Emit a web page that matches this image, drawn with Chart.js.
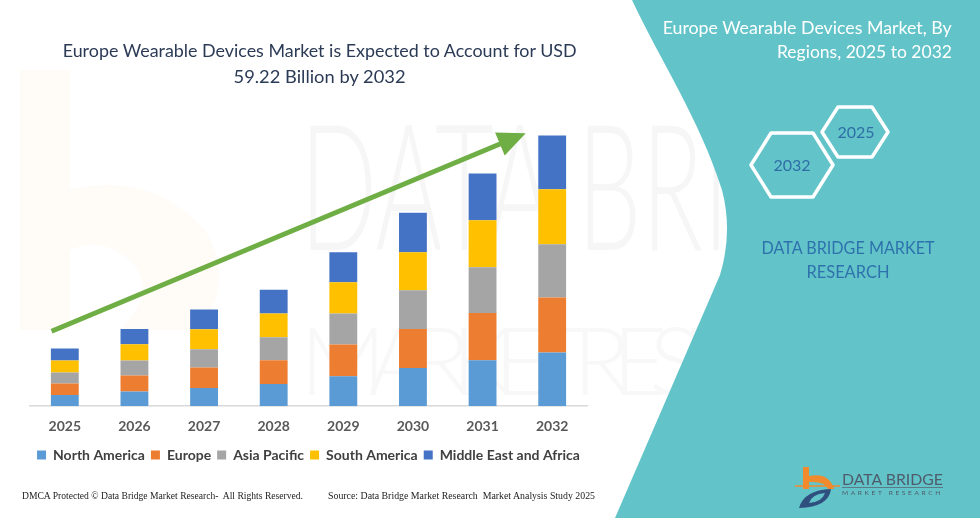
<!DOCTYPE html>
<html>
<head>
<meta charset="utf-8">
<script src="https://cdn.jsdelivr.net/npm/chart.js@4.4.1/dist/chart.umd.min.js"></script>
<style>
  html, body { margin:0; padding:0; }
  body { width:980px; height:523px; position:relative; overflow:hidden; background:#ffffff; font-family: Lato, "Open Sans", sans-serif; }
  #bg { position:absolute; left:0; top:0; }
  #chart { position:absolute; left:0; top:0; }
  .t { position:absolute; white-space:nowrap; line-height:1; }
</style>
</head>
<body>
<svg id="bg" width="980" height="523" viewBox="0 0 980 523">
  <!-- faint watermark -->
  <path d="M20,70 L70,70 L70,190 Q150,170 205,230 Q235,280 200,330 L120,330 Q160,290 130,260 Q100,235 70,250 L70,330 L20,330 Z" fill="#f7941d" opacity="0.04"/>
  <text x="300" y="250" font-family="Lato" font-weight="300" font-size="175" fill="#000" opacity="0.03" textLength="640" lengthAdjust="spacingAndGlyphs">DATA BRIDGE</text>
  <text x="300" y="395" font-family="Lato" font-weight="300" font-size="95" fill="#000" opacity="0.025" textLength="640" letter-spacing="20">MARKET RESEARCH</text>
  <!-- teal panel -->
  <path d="M632,0 C660,60 700,120 722,190 Q733,232 720,275 L615,518 L980,518 L980,0 Z" fill="#62c4c9"/>
  <!-- hexagons -->
  <polygon points="822,132 838,107 872,107 888,132 872,157 838,157" fill="none" stroke="#ffffff" stroke-width="3.5" stroke-linejoin="round"/>
  <polygon points="751,165 771,133 813,133 833,165 813,197 771,197" fill="none" stroke="#ffffff" stroke-width="3.5" stroke-linejoin="round"/>
  <!-- logo -->
  <path d="M803,467 L809,467 L809,476 Q829,472 834,489 L828,489 Q825,481 809,482 L809,489 L803,489 Z" fill="#f08a2c"/>
  <line x1="795" y1="486" x2="840" y2="486" stroke="#f08a2c" stroke-width="1.5"/>
  <path d="M799,508 Q804,490 831,489 Q829,507 799,508 Z" fill="#2f4f7f"/>
  <path d="M809,503 Q812,494 825,493 Q822,502 809,503 Z" fill="#62c4c9"/>
  <line x1="842" y1="487.5" x2="943" y2="487.5" stroke="#5a6676" stroke-width="0.8"/>
</svg>

<canvas id="chart" width="980" height="523"></canvas>

<div class="t" id="title1" style="left:0; width:640px; top:41px; text-align:center; font-size:18px; color:#2b3a55;"><span>Europe Wearable Devices Market is Expected to Account for USD</span></div>
<div class="t" id="title2" style="left:0; width:640px; top:67px; text-align:center; font-size:18px; color:#2b3a55;"><span>59.22 Billion by 2032</span></div>

<div class="t" id="rt1" style="right:28px; top:19px; font-size:17px; color:#ffffff; text-align:right;"><span>Europe Wearable Devices Market, By</span></div>
<div class="t" id="rt2" style="right:28px; top:43px; font-size:17px; color:#ffffff; text-align:right;"><span>Regions, 2025 to 2032</span></div>

<div class="t" style="left:826px; top:124px; width:60px; text-align:center; font-size:16px; color:#2f6ea6;">2025</div>
<div class="t" style="left:762px; top:157px; width:60px; text-align:center; font-size:16px; color:#2f6ea6;">2032</div>

<div class="t" id="db1" style="left:748px; width:200px; top:239px; text-align:center; font-size:17px; color:#2e72ad;"><span>DATA BRIDGE MARKET</span></div>
<div class="t" id="db2" style="left:748px; width:200px; top:263px; text-align:center; font-size:17px; color:#2e72ad;"><span>RESEARCH</span></div>

<div class="t" id="f1" style="left:22px; top:492px; font-family:'Liberation Serif', serif; font-size:9.5px; color:#222;"><span>DMCA Protected © Data Bridge Market Research-&nbsp; All Rights Reserved.</span></div>
<div class="t" id="f2" style="left:328px; top:492px; font-family:'Liberation Serif', serif; font-size:9.5px; color:#222;"><span>Source: Data Bridge Market Research&nbsp; Market Analysis Study 2025</span></div>

<div class="t" id="lg1" style="left:842px; top:471px; font-size:16px; color:#4f5b6b; font-weight:400;"><span>DATA BRIDGE</span></div>
<div class="t" id="lg2" style="left:842px; top:491px; font-size:5px; color:#4f5b6b; letter-spacing:2px;"><span>MARKET RESEARCH</span></div>

<script>
// ---- data ----
const years = ['2025', '2026', '2027', '2028', '2029', '2030', '2031', '2032'];
const seriesNames = ['North America', 'Europe', 'Asia Pacific', 'South America', 'Middle East and Africa'];
const northAmerica     = [2.47, 3.21, 4.00, 4.88, 6.56, 8.38, 10.06, 11.75];
const europe           = [2.48, 3.50, 4.44, 5.19, 6.94, 8.53, 10.35, 12.03];
const asiaPacific      = [2.44, 3.28, 4.00, 5.03, 6.78, 8.47, 10.00, 11.66];
const southAmerica     = [2.58, 3.54, 4.38, 5.19, 6.85, 8.31, 10.28, 12.03];
const middleEastAfrica = [2.63, 3.33, 4.31, 5.19, 6.56, 8.60, 10.22, 11.75];
const arrowStartValue = 16.4;
const arrowEndValue = 59.7;

const colors = ['#5b9bd5', '#ed7d31', '#a5a5a5', '#ffc000', '#4472c4'];
const seriesValues = [northAmerica, europe, asiaPacific, southAmerica, middleEastAfrica];

// fit text helper (decor text)
function fitWidth(id, w, origin) {
  const el = document.getElementById(id);
  const span = el.querySelector('span');
  const cur = span.getBoundingClientRect().width;
  span.style.display = 'inline-block';
  span.style.transformOrigin = origin || 'center';
  span.style.transform = 'scaleX(' + (w / cur) + ')';
}
fitWidth('title1', 514, 'center');
fitWidth('title2', 172, 'center');
fitWidth('rt1', 289, 'right');
fitWidth('rt2', 175, 'right');
fitWidth('db1', 173, 'center');
fitWidth('db2', 83, 'center');
fitWidth('f1', 281, 'left');
fitWidth('f2', 267, 'left');
fitWidth('lg1', 101, 'left');
fitWidth('lg2', 101, 'left');

const arrowPlugin = {
  id: 'growthArrow',
  afterDatasetsDraw(chart) {
    const { ctx, scales: { x, y } } = chart;
    const catW = x.getPixelForValue(1) - x.getPixelForValue(0);
    const x0 = x.getPixelForValue(0) - 0.19 * catW;
    const y0 = y.getPixelForValue(arrowStartValue);
    const x1 = x.getPixelForValue(years.length - 1) - 0.38 * catW;
    const y1 = y.getPixelForValue(arrowEndValue);
    const ang = Math.atan2(y1 - y0, x1 - x0);
    const headLen = 28, headHalf = 12.5;
    const bx = x1 - headLen * Math.cos(ang), by = y1 - headLen * Math.sin(ang);
    ctx.save();
    ctx.strokeStyle = '#6fae45';
    ctx.fillStyle = '#6fae45';
    ctx.lineWidth = 5;
    ctx.lineCap = 'butt';
    ctx.beginPath();
    ctx.moveTo(x0, y0);
    ctx.lineTo(bx + 2 * Math.cos(ang), by + 2 * Math.sin(ang));
    ctx.stroke();
    ctx.beginPath();
    ctx.moveTo(x1, y1);
    ctx.lineTo(bx - headHalf * Math.sin(ang), by + headHalf * Math.cos(ang));
    ctx.lineTo(bx + headHalf * Math.sin(ang), by - headHalf * Math.cos(ang));
    ctx.closePath();
    ctx.fill();
    ctx.restore();
  }
};

new Chart(document.getElementById('chart'), {
  type: 'bar',
  data: {
    labels: years,
    datasets: seriesNames.map((name, i) => ({
      label: name,
      data: seriesValues[i],
      backgroundColor: colors[i],
      borderWidth: 0,
      barPercentage: 0.4,
      categoryPercentage: 1.0
    }))
  },
  options: {
    responsive: false,
    animation: false,
    events: [],
    layout: { padding: { top: 109, left: 30, right: 393, bottom: 51 } },
    plugins: {
      tooltip: { enabled: false },
      title: { display: false },
      legend: {
        display: true,
        position: 'bottom',
        labels: {
          boxWidth: 9,
          boxHeight: 9,
          padding: 6,
          color: '#404040',
          font: { family: 'Lato', size: 14, weight: 'bold' }
        }
      }
    },
    scales: {
      x: {
        stacked: true,
        grid: { display: true, drawOnChartArea: false, drawTicks: false },
        border: { display: true, color: '#d9d9d9', width: 1.5 },
        ticks: { padding: 12, color: '#595959', font: { family: 'Lato', size: 14, weight: 'bold' } },
        afterFit(axis) { axis.height -= 5; }
      },
      y: {
        stacked: true,
        display: false,
        min: 0,
        max: 65
      }
    }
  },
  plugins: [arrowPlugin]
});
</script>
</body>
</html>
